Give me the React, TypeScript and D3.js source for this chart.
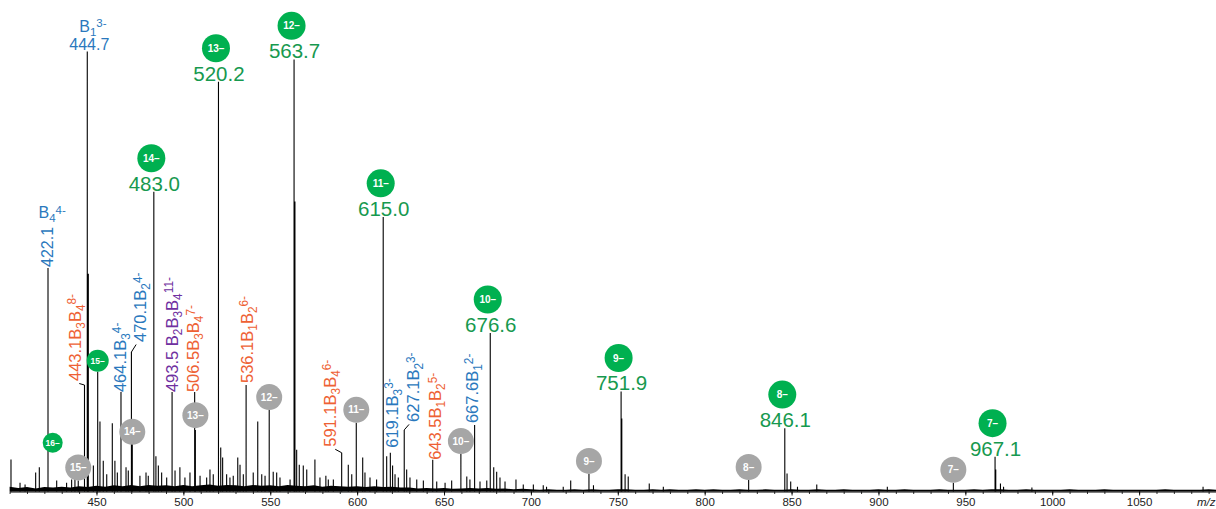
import React, { useEffect, useRef } from 'react';
import * as d3 from 'd3';

const W = 1216;
const H = 509;
const FONT = "'Liberation Sans', Arial, Helvetica, sans-serif";

// ---- spectrum data -------------------------------------------------------
// resolved peaks: m/z and relative intensity (% of base peak)
const peakMz = [
  400.8, 406.0, 408.9, 415.0, 417.1, 422.1, 427.1, 432.8, 435.7, 437.6,
  439.5, 443.1, 444.7, 445.3, 448.2, 450.7, 452.0, 453.9, 455.9, 459.1,
  460.6, 462.0, 464.1, 467.0, 468.3, 470.1, 470.6, 475.0, 478.5, 479.8,
  483.0, 484.2, 485.6, 487.5, 490.4, 493.5, 495.2, 498.0, 500.9, 503.8,
  506.5, 506.9, 509.6, 513.4, 515.3, 517.2, 520.2, 521.5, 522.6, 524.9,
  526.8, 528.7, 531.3, 532.6, 534.5, 536.1, 540.2, 542.8, 545.1, 547.0,
  549.4, 551.7, 553.7, 555.6, 561.4, 563.7, 564.2, 565.2, 566.7, 569.0,
  571.0, 575.7, 578.6, 582.0, 583.4, 586.3, 591.1, 594.9, 596.9, 599.5,
  603.2, 604.5, 607.4, 611.2, 615.0, 617.0, 619.1, 620.4, 621.8, 623.7,
  627.1, 628.5, 630.4, 634.3, 638.1, 643.5, 645.8, 650.6, 654.4, 659.7,
  663.1, 664.9, 667.6, 670.7, 674.6, 676.6, 678.6, 680.3, 682.2, 685.1,
  691.4, 695.6, 701.4, 707.1, 709.0, 718.6, 722.9, 733.4, 736.0, 751.9,
  752.3, 754.2, 756.0, 768.1, 776.2, 825.3, 846.1, 847.4, 849.5, 853.4,
  864.5, 905.1, 943.1, 967.1, 967.5, 970.2, 972.0, 988.3, 1086.8,
];
const peakIntensity = [
  7.3, 2.0, 1.6, 4.3, 5.5, 50.8, 2.5, 2.0, 2.7, 4.3,
  2.5, 24.2, 100, 49.5, 5.9, 27.2, 15.9, 7.0, 3.9, 15.5,
  7.0, 4.3, 22.6, 5.5, 4.8, 31.7, 13.0, 3.6, 4.3, 3.6,
  68.1, 8.0, 5.9, 4.3, 3.2, 22.6, 4.8, 5.5, 3.2, 4.3,
  22.6, 14.0, 3.6, 3.2, 5.0, 3.9, 93.1, 10.0, 7.7, 3.9,
  3.2, 3.6, 7.7, 6.1, 3.9, 24.2, 4.3, 15.9, 3.9, 3.6,
  18.5, 4.5, 4.3, 3.2, 2.7, 98.2, 65.9, 9.5, 6.1, 5.9,
  5.0, 7.3, 3.2, 3.6, 2.7, 2.7, 8.8, 6.1, 3.9, 15.6,
  7.7, 4.3, 3.2, 2.7, 62.4, 8.0, 8.8, 5.9, 3.9, 3.2,
  14.0, 5.0, 3.2, 2.7, 2.5, 7.2, 2.3, 2.0, 2.5, 8.5,
  3.4, 2.7, 15.1, 2.3, 2.5, 36.0, 5.5, 4.5, 3.2, 2.3,
  2.7, 1.6, 1.6, 1.4, 1.1, 1.1, 2.5, 4.0, 1.4, 22.7,
  16.6, 3.9, 3.4, 1.8, 1.1, 2.6, 14.4, 4.1, 2.3, 1.1,
  1.6, 1.1, 2.0, 7.9, 5.0, 1.8, 1.1, 0.9, 1.1,
];

// chemical-noise envelope, one value every 5 m/z starting at 400
const noiseStart = 400;
const noiseStep = 5;
const noiseLevel = [
  1.1, 0.8, 1.0, 0.7, 1.0, 0.9, 1.1, 0.9, 1.2, 1.0,
  1.3, 1.1, 1.4, 1.2, 1.5, 1.2, 1.5, 1.3, 1.4, 1.2,
  1.5, 1.2, 1.4, 1.6, 1.3, 1.5, 1.4, 1.2, 1.5, 1.3,
  1.4, 1.2, 1.5, 1.3, 1.2, 1.4, 1.1, 1.3, 1.2, 1.1,
  1.2, 1.0, 1.2, 1.0, 1.1, 0.9, 0.9, 0.7, 0.8, 0.7,
  0.8, 0.6, 0.7, 0.8, 0.7, 0.8, 0.6, 0.7, 0.5, 0.6,
  0.5, 0.4, 0.5, 0.4, 0.4, 0.5, 0.4, 0.5, 0.4, 0.4,
  0.5, 0.5, 0.4, 0.4, 0.5, 0.4, 0.5, 0.4, 0.4, 0.5,
  0.4, 0.5, 0.4, 0.4, 0.5, 0.4, 0.4, 0.5, 0.4, 0.4,
  0.5, 0.4, 0.4, 0.5, 0.4, 0.4, 0.5, 0.4, 0.4, 0.4,
  0.5, 0.4, 0.4, 0.5, 0.4, 0.4, 0.4, 0.5, 0.4, 0.4,
  0.4, 0.5, 0.4, 0.5, 0.5, 0.4, 0.4, 0.5, 0.4, 0.4,
  0.4, 0.4, 0.5, 0.4, 0.4, 0.4, 0.5, 0.4, 0.4, 0.4,
  0.4, 0.4, 0.4, 0.5, 0.4, 0.4, 0.4, 0.4, 0.5, 0.4,
  0.4,
];

// intact complex charge states (green, labelled with m/z)
const intactMz = [483.0, 520.2, 563.7, 615.0, 676.6, 751.9, 846.1, 967.1];
const intactCharge = [14, 13, 12, 11, 10, 9, 8, 7];
const intactIntensity = [68.1, 93.1, 98.2, 62.4, 36.0, 22.7, 14.4, 7.9];

// high charge states of the intact complex marked without m/z
const intactMinorMz = [424.8, 450.7];
const intactMinorCharge = [16, 15];
const intactMinorLevel = [8.8, 27.2];

// second complex charge-state series (grey)
const secondMz = [439.5, 470.6, 506.9, 549.4, 599.5, 659.7, 733.4, 825.3, 943.1];
const secondCharge = [15, 14, 13, 12, 11, 10, 9, 8, 7];
const secondLevel = [2.5, 10.6, 14.4, 18.5, 15.6, 8.5, 4.0, 2.6, 2.0];

// subunit fragment assignments
const fragMz = [422.1, 444.7, 443.1, 464.1, 470.1, 493.5, 506.5, 536.1, 591.1, 619.1, 627.1, 643.5, 667.6];
const fragName = ['B_4', 'B_1', 'B_3B_4', 'B_3', 'B_2', 'B_2B_3B_4', 'B_3B_4', 'B_1B_2', 'B_3B_4', 'B_3', 'B_2', 'B_1B_2', 'B_1'];
const fragCharge = [4, 3, 8, 4, 4, 11, 7, 6, 6, 3, 3, 5, 2];
const fragIntensity = [50.8, 100, 24.2, 22.6, 31.7, 22.6, 22.6, 24.2, 8.8, 8.8, 14.0, 7.2, 15.1];

// ---- presentation --------------------------------------------------------
const GREEN = '#00b050';
const GREEN_TEXT = '#17994f';
const GREY = '#a6a6a6';
// colour by number of subunits in a fragment: 1, 2, 3
const SUBUNIT_COLORS = ['#2a78bd', '#ee6134', '#7030a0'];

type Placement = { mode: 'rot' | 'stack' | 'mixed'; dx: number; gap: number; space?: boolean };
const fragPlacement: Record<string, Placement> = {
  '422.1': { mode: 'mixed', dx: -1, gap: 1 },
  '444.7': { mode: 'stack', dx: 2, gap: 1.5 },
  '443.1': { mode: 'rot', dx: -9.5, gap: 4 },
  '464.1': { mode: 'rot', dx: -1, gap: 0 },
  '470.1': { mode: 'rot', dx: 8.6, gap: 10 },
  '493.5': { mode: 'rot', dx: -0.4, gap: 0, space: true },
  '506.5': { mode: 'rot', dx: -1.4, gap: 0 },
  '536.1': { mode: 'rot', dx: 0.5, gap: 2 },
  '591.1': { mode: 'rot', dx: -11.7, gap: 6 },
  '619.1': { mode: 'rot', dx: 1.4, gap: 5 },
  '627.1': { mode: 'rot', dx: 8.8, gap: 8 },
  '643.5': { mode: 'rot', dx: 2.3, gap: 0 },
  '667.6': { mode: 'rot', dx: -3, gap: 2 },
};

const x = d3.scaleLinear().domain([400, 1100]).range([9.6, 1226]);
const y = d3.scaleLinear().domain([0, 100]).range([491.5, 51.5]);

type Seg = { text: string; kind: 'n' | 'sub' | 'sup' };
function parseRich(s: string): Seg[] {
  const out: Seg[] = [];
  let buf = '';
  let i = 0;
  while (i < s.length) {
    const c = s[i];
    if (c === '_') {
      if (buf) out.push({ text: buf, kind: 'n' });
      buf = '';
      out.push({ text: s[i + 1], kind: 'sub' });
      i += 2;
    } else if (c === '^') {
      if (buf) out.push({ text: buf, kind: 'n' });
      buf = '';
      out.push({ text: s.slice(i + 1), kind: 'sup' });
      i = s.length;
    } else {
      buf += c;
      i += 1;
    }
  }
  if (buf) out.push({ text: buf, kind: 'n' });
  return out;
}

function richSpans(segs: Seg[], fs: number) {
  let offset = 0;
  return segs.map((s, i) => {
    const target = s.kind === 'sub' ? 0.25 * fs : s.kind === 'sup' ? -0.27 * fs : 0;
    const dy = target - offset;
    offset = target;
    const size = s.kind === 'n' ? fs : fs * 0.72;
    return (
      <tspan key={i} dy={dy} fontSize={size}>
        {s.text}
      </tspan>
    );
  });
}

function Badge({ cx, cy, r, fill, label, fs }: { cx: number; cy: number; r: number; fill: string; label: string; fs: number }) {
  return (
    <g>
      <circle cx={cx} cy={cy} r={r} fill={fill} />
      <text x={cx} y={cy + fs * 0.36} textAnchor="middle" fontSize={fs} fill="#fff" fontWeight={600}>
        {label}
      </text>
    </g>
  );
}

function Axis() {
  const major = useRef<SVGGElement>(null);
  const minor = useRef<SVGGElement>(null);
  useEffect(() => {
    const minorAxis = d3
      .axisBottom(x)
      .tickValues(d3.range(400, 1101, 10))
      .tickSize(2.5)
      .tickSizeOuter(0)
      .tickFormat(() => '');
    const majorAxis = d3
      .axisBottom(x)
      .tickValues(d3.range(450, 1051, 50))
      .tickSize(4)
      .tickSizeOuter(0)
      .tickPadding(2)
      .tickFormat(d3.format('d'));
    const gMinor = d3.select(minor.current!).call(minorAxis);
    gMinor.select('.domain').attr('stroke', '#000').attr('stroke-width', 1.2);
    gMinor.selectAll('.tick line').attr('stroke', '#000').attr('stroke-width', 0.8);
    const gMajor = d3.select(major.current!).call(majorAxis);
    gMajor.select('.domain').remove();
    gMajor.selectAll('.tick line').attr('stroke', '#000').attr('stroke-width', 0.9);
    gMajor
      .selectAll('.tick text')
      .attr('font-family', FONT)
      .attr('font-size', 11.5)
      .attr('fill', '#222');
  }, []);
  return (
    <g>
      <g ref={minor} transform={`translate(0,${y(0)})`} />
      <g ref={major} transform={`translate(0,${y(0)})`} />
    </g>
  );
}

export default function App() {
  const base = y(0);
  const sticks = peakMz.map((m, i) => `M${x(m)},${base}V${y(peakIntensity[i])}`).join('');
  const noise = noiseLevel.map((v, i) => ({ mz: noiseStart + i * noiseStep, v }));
  const noiseArea = d3
    .area<{ mz: number; v: number }>()
    .x((d) => x(d.mz))
    .y0(base)
    .y1((d) => y(d.v))(noise) as string;

  const ROT_FS = 16.5;

  return (
    <svg
      width={W}
      height={H}
      viewBox={`0 0 ${W} ${H}`}
      style={{ position: 'absolute', left: 0, top: 0, display: 'block', background: '#fff' }}
      fontFamily={FONT}
    >
      {/* spectrum */}
      <path d={noiseArea} fill="#000" />
      <path d={sticks} stroke="#000" strokeWidth={1.1} fill="none" />
      <Axis />
      <text x={1197} y={506} fontSize={11.5} fontStyle="italic" fill="#222">
        m/z
      </text>

      {/* fragment assignments */}
      {fragMz.map((m, i) => {
        const key = m.toFixed(1);
        const p = fragPlacement[key];
        const px = x(m);
        const top = y(fragIntensity[i]);
        const nSub = (fragName[i].match(/B/g) || []).length;
        const color = SUBUNIT_COLORS[nSub - 1];
        const nameRich = `${fragName[i]}^${fragCharge[i]}-`;
        if (p.mode === 'stack') {
          return (
            <g key={key} fill={color}>
              <text x={px - 8} y={top - p.gap - 18.5} fontSize={16}>
                {richSpans(parseRich(nameRich), 16)}
              </text>
              <text x={px + p.dx} y={top - p.gap} fontSize={16} textAnchor="middle">
                {key}
              </text>
            </g>
          );
        }
        if (p.mode === 'mixed') {
          const cx = px + p.dx;
          const bottom = top - p.gap;
          return (
            <g key={key} fill={color}>
              <text x={px - 9.5} y={top - 50} fontSize={16}>
                {richSpans(parseRich(nameRich), 16)}
              </text>
              <text transform={`translate(${cx + 0.36 * 16},${bottom}) rotate(-90)`} fontSize={16}>
                {key}
              </text>
            </g>
          );
        }
        const cx = px + p.dx;
        const bottom = top - p.gap;
        const full = `${key}${p.space ? ' ' : ''}${nameRich}`;
        const leader = Math.abs(p.dx) > 5;
        return (
          <g key={key}>
            {leader && (
              <path
                d={`M${px + p.dx * 0.55},${bottom + 2.5}L${px},${top}`}
                stroke="#000"
                strokeWidth={1}
                fill="none"
              />
            )}
            <text
              transform={`translate(${cx + 0.36 * ROT_FS},${bottom}) rotate(-90)`}
              fontSize={ROT_FS}
              fill={color}
            >
              {richSpans(parseRich(full), ROT_FS)}
            </text>
          </g>
        );
      })}

      {/* second complex series */}
      {secondMz.map((m, i) => (
        <Badge
          key={`s${m}`}
          cx={x(m)}
          cy={y(secondLevel[i]) - 13}
          r={13}
          fill={GREY}
          label={`${secondCharge[i]}–`}
          fs={10}
        />
      ))}

      {/* intact complex, high charge states */}
      {intactMinorMz.map((m, i) => {
        const r = intactMinorCharge[i] > 15 ? 10 : 11;
        return (
          <Badge
            key={`m${m}`}
            cx={x(m)}
            cy={y(intactMinorLevel[i]) - r}
            r={r}
            fill={GREEN}
            label={`${intactMinorCharge[i]}–`}
            fs={8.5}
          />
        );
      })}

      {/* intact complex, labelled charge states */}
      {intactMz.map((m, i) => {
        const px = x(m);
        const baseline = y(intactIntensity[i]) - 1.2;
        return (
          <g key={`i${m}`}>
            <Badge cx={px - 2.5} cy={baseline - 32.4} r={14} fill={GREEN} label={`${intactCharge[i]}–`} fs={10} />
            <text x={px + 0.5} y={baseline} textAnchor="middle" fontSize={20.5} fill={GREEN_TEXT}>
              {m.toFixed(1)}
            </text>
          </g>
        );
      })}
    </svg>
  );
}
